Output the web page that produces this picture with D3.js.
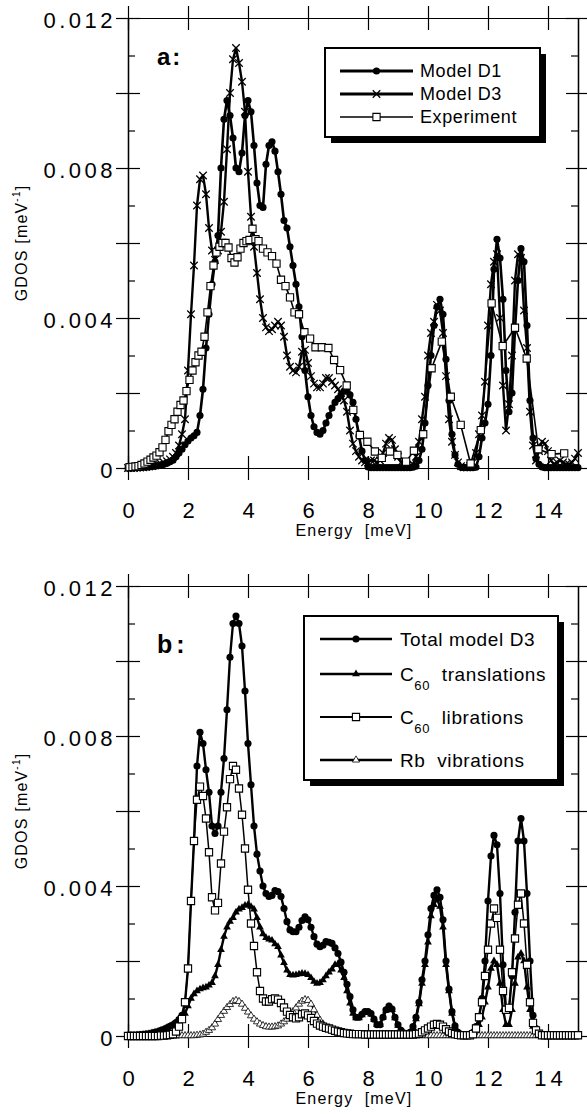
<!DOCTYPE html>
<html>
<head>
<meta charset="utf-8">
<script src="https://cdn.jsdelivr.net/npm/d3@7"></script>
<style>
    body { margin: 0; background: #fff; }
    svg { display: block; font-family: "Liberation Sans", Arial, Helvetica, sans-serif; }
</style>
</head>
<body>
<svg id="chart" width="587" height="1114"></svg>
<script>
// all GDOS arrays are in units of 10^-3 meV^-1
var UNIT = 0.001;

var energy = [
    0, 0.1, 0.2, 0.3, 0.4, 0.5, 0.6, 0.7, 0.8, 0.9, 1.0,
    1.1, 1.2, 1.3, 1.4, 1.5, 1.6, 1.7, 1.8, 1.9, 2.0,
    2.1, 2.2, 2.3, 2.4, 2.5, 2.6, 2.7, 2.8, 2.9, 3.0,
    3.1, 3.2, 3.3, 3.4, 3.5, 3.6, 3.7, 3.8, 3.9, 4.0,
    4.1, 4.2, 4.3, 4.4, 4.5, 4.6, 4.7, 4.8, 4.9, 5.0,
    5.1, 5.2, 5.3, 5.4, 5.5, 5.6, 5.7, 5.8, 5.9, 6.0,
    6.1, 6.2, 6.3, 6.4, 6.5, 6.6, 6.7, 6.8, 6.9, 7.0,
    7.1, 7.2, 7.3, 7.4, 7.5, 7.6, 7.7, 7.8, 7.9, 8.0,
    8.1, 8.2, 8.3, 8.4, 8.5, 8.6, 8.7, 8.8, 8.9, 9.0,
    9.1, 9.2, 9.3, 9.4, 9.5, 9.6, 9.7, 9.8, 9.9, 10.0,
    10.1, 10.2, 10.3, 10.4, 10.5, 10.6, 10.7, 10.8, 10.9, 11.0,
    11.1, 11.2, 11.3, 11.4, 11.5, 11.6, 11.7, 11.8, 11.9, 12.0,
    12.1, 12.2, 12.3, 12.4, 12.5, 12.6, 12.7, 12.8, 12.9, 13.0,
    13.1, 13.2, 13.3, 13.4, 13.5, 13.6, 13.7, 13.8, 13.9, 14.0,
    14.1, 14.2, 14.3, 14.4, 14.5, 14.6, 14.7, 14.8, 14.9, 15.0
];

// panel a
var gdosD1 = [
    0, 0, 0, 0.01, 0.01, 0.02, 0.02, 0.03, 0.04, 0.05, 0.06,
    0.08, 0.1, 0.13, 0.17, 0.21, 0.3, 0.4, 0.5, 0.62, 0.72,
    0.8, 0.86, 0.95, 1.4, 2.1, 3.2, 4.1, 4.9, 5.5, 6.2,
    8.0, 9.3, 9.8, 9.4, 8.8, 8.0, 7.9, 8.4, 9.4, 9.8,
    9.5, 8.6, 7.6, 7.0, 6.95, 8.1, 8.6, 8.7, 8.45, 7.9,
    7.3, 6.6, 6.4, 5.9, 5.4, 4.9, 4.3, 3.5, 2.6, 1.9,
    1.4, 1.1, 0.95, 0.9, 1.0, 1.2, 1.4, 1.6, 1.75, 1.85,
    1.95, 2.05, 2.05, 1.95, 1.75, 1.3, 0.85, 0.45, 0.2, 0.03,
    0.01, 0.01, 0.01, 0.01, 0.01, 0.01, 0.01, 0.01, 0.01, 0.01,
    0.01, 0.01, 0.01, 0.01, 0.02, 0.05, 0.2, 0.5, 1.2, 2.2,
    3.0, 3.8, 4.3, 4.5, 4.1, 2.9, 1.8, 0.9, 0.35, 0.1,
    0.02, 0.01, 0.01, 0.01, 0.01, 0.02, 0.3, 0.8, 1.2, 1.7,
    3.0, 5.3, 6.1, 5.6, 4.5, 2.6, 1.5, 2.0, 3.7, 5.0,
    5.85, 5.5, 3.8, 1.8, 0.8, 0.25, 0.1, 0.03, 0.01, 0.01,
    0.01, 0.01, 0.01, 0.01, 0.01, 0.01, 0.01, 0.01, 0.01, 0.01
];

var gdosD3 = [
    0, 0, 0, 0.01, 0.01, 0.02, 0.03, 0.04, 0.05, 0.07, 0.09,
    0.11, 0.14, 0.18, 0.23, 0.3, 0.4, 0.6, 0.9, 1.3, 2.6,
    4.1, 5.4, 7.0, 7.7, 7.8, 7.3, 6.4, 5.8, 5.55, 5.8,
    6.3, 7.1, 8.5, 10.0, 10.9, 11.2, 10.8, 10.3, 9.5, 7.9,
    6.7, 5.9, 5.2, 4.5, 4.0, 3.75, 3.65, 3.7, 3.8, 3.9,
    3.8, 3.5, 3.0, 2.7, 2.6, 2.55, 2.7, 3.1, 3.15, 2.8,
    2.45, 2.25, 2.15, 2.15, 2.25, 2.4, 2.4, 2.3, 2.2, 2.1,
    2.0, 1.8, 1.5, 1.0, 0.65, 0.45, 0.3, 0.2, 0.15, 0.15,
    0.2, 0.2, 0.15, 0.2, 0.4, 0.65, 0.8, 0.75, 0.5, 0.3,
    0.15, 0.08, 0.05, 0.05, 0.1, 0.3, 0.7, 1.3, 1.9, 3.0,
    3.6, 3.9, 4.35, 4.2, 3.6, 2.45, 1.3, 0.7, 0.35, 0.15,
    0.05, 0.02, 0.02, 0.05, 0.15, 0.4, 0.9, 1.4, 2.3, 3.8,
    4.9, 5.5, 5.7, 4.0, 2.2, 1.0, 1.7, 3.0, 5.0, 5.7,
    5.6, 4.2, 3.2, 1.5, 0.6, 0.2, 0.45, 0.7, 0.65, 0.45,
    0.2, 0.1, 0.15, 0.2, 0.15, 0.1, 0.1, 0.15, 0.25, 0.4
];

var expEnergy = [
    0.05, 0.15, 0.25, 0.35, 0.45, 0.55, 0.65, 0.75, 0.85, 0.95,
    1.05, 1.15, 1.25, 1.35, 1.45, 1.55, 1.65, 1.75, 1.85, 1.95,
    2.05, 2.15, 2.25, 2.35, 2.45, 2.55, 2.65, 2.75, 2.85, 2.95,
    3.05, 3.15, 3.25, 3.35, 3.45, 3.55, 3.65, 3.75, 3.85, 3.95,
    4.05, 4.15, 4.25, 4.35, 4.5, 4.65, 4.8, 4.95, 5.1, 5.25,
    5.4, 5.55, 5.7, 5.88, 6.07, 6.25, 6.46, 6.68, 6.87, 7.07,
    7.29, 7.51, 7.73, 7.98, 8.23, 8.46, 8.73, 8.98, 9.27, 9.53,
    9.84, 10.12, 10.46, 10.76, 11.09, 11.42, 11.76, 12.12, 12.49, 12.9,
    13.29, 13.68, 14.12, 14.54
];

var expGdos = [
    0.02, 0.03, 0.04, 0.05, 0.08, 0.12, 0.17, 0.22, 0.28, 0.33,
    0.42, 0.55, 0.75, 0.98, 1.15, 1.3, 1.5, 1.68, 1.8, 2.05,
    2.35, 2.6, 2.82, 3.0, 3.1, 3.5, 4.15, 4.85, 5.4, 5.75,
    5.9, 6.0, 6.0, 5.88, 5.6, 5.48, 5.62, 5.85, 6.0, 6.05,
    6.08, 6.38, 6.1, 6.05, 5.85, 5.75, 5.65, 5.45, 5.02, 4.85,
    4.55, 4.15, 4.1, 3.62, 3.45, 3.22, 3.22, 3.2, 2.88, 2.61,
    2.2, 1.55, 0.88, 0.7, 0.44, 0.27, 0.44, 0.35, 0.17, 0.46,
    0.9, 2.66, 3.37, 1.9, 1.15, 0.12, 1.01, 4.39, 3.25, 3.74,
    2.92, 0.5, 0.37, 0.39
];

// panel b
var gdosTotal = [
    0, 0.01, 0.01, 0.02, 0.03, 0.04, 0.05, 0.06, 0.08, 0.1, 0.12,
    0.15, 0.18, 0.22, 0.26, 0.3, 0.36, 0.44, 0.55, 0.9, 1.8,
    3.6, 5.2, 7.2, 8.1, 7.8, 7.1, 6.5, 5.6, 5.4, 5.6,
    6.5, 7.4, 8.7, 10.1, 11.0, 11.2, 11.0, 10.4, 9.2, 7.8,
    6.7, 5.6, 4.85, 4.4, 4.0, 3.8, 3.72, 3.75, 3.88, 3.85,
    3.72, 3.4, 3.05, 2.83, 2.78, 2.78, 2.9, 3.08, 3.18, 3.1,
    2.9, 2.65, 2.45, 2.38, 2.42, 2.52, 2.5, 2.47, 2.35, 2.2,
    1.97, 1.7, 1.38, 1.05, 0.7, 0.5, 0.5, 0.58, 0.65, 0.65,
    0.6, 0.45, 0.3, 0.3, 0.5, 0.7, 0.8, 0.72, 0.5, 0.3,
    0.15, 0.08, 0.06, 0.1, 0.25, 0.5, 0.9, 1.5, 2.0, 2.7,
    3.4, 3.75, 3.9, 3.7, 3.1, 2.0, 1.25, 0.65, 0.27, 0.1,
    0.04, 0.02, 0.02, 0.04, 0.1, 0.25, 0.5, 1.0, 2.0, 3.6,
    4.8, 5.35, 5.1, 3.8, 1.9, 0.7, 0.7, 1.6, 3.3, 5.2,
    5.8, 5.2, 3.8, 2.0, 0.55, 0.2, 0.08, 0.03, 0.02, 0.01,
    0.01, 0.01, 0.01, 0.01, 0.01, 0.01, 0.01, 0.01, 0.01, 0.01
];

var gdosTrans = [
    0, 0.01, 0.01, 0.02, 0.03, 0.04, 0.05, 0.06, 0.08, 0.1, 0.12,
    0.15, 0.18, 0.22, 0.26, 0.3, 0.35, 0.42, 0.5, 0.6, 0.8,
    1.0, 1.12, 1.2, 1.25, 1.28, 1.3, 1.35, 1.42, 1.6, 1.9,
    2.3, 2.65, 2.9, 3.05, 3.15, 3.3, 3.38, 3.42, 3.48, 3.5,
    3.45, 3.38, 3.15, 2.9, 2.72, 2.62, 2.58, 2.55, 2.45, 2.38,
    2.15, 1.95, 1.75, 1.63, 1.62, 1.63, 1.65, 1.67, 1.66, 1.63,
    1.55, 1.45, 1.4, 1.42, 1.49, 1.6, 1.7, 1.78, 1.9, 1.92,
    1.75, 1.55, 1.2, 0.87, 0.6, 0.48, 0.48, 0.56, 0.63, 0.63,
    0.58, 0.44, 0.3, 0.3, 0.5, 0.68, 0.78, 0.7, 0.48, 0.28,
    0.14, 0.07, 0.05, 0.08, 0.22, 0.45, 0.85, 1.4, 1.9, 2.5,
    3.2, 3.5, 3.65, 3.45, 2.9, 1.9, 1.2, 0.6, 0.25, 0.08,
    0.03, 0.02, 0.02, 0.03, 0.07, 0.15, 0.3, 0.5, 0.9, 1.3,
    1.8, 2.0, 1.9, 1.4, 0.7, 0.3, 0.3, 0.7, 1.4, 2.1,
    2.2, 2.0, 1.3, 0.7, 0.25, 0.1, 0.05, 0.02, 0.01, 0.01,
    0.01, 0.01, 0.01, 0.01, 0.01, 0.01, 0.01, 0.01, 0.01, 0.01
];

var gdosLib = [
    0, 0, 0, 0, 0, 0, 0, 0, 0, 0, 0,
    0.01, 0.01, 0.02, 0.03, 0.05, 0.12, 0.25, 0.45, 0.9, 1.8,
    3.6, 5.2, 6.3, 6.65, 6.4, 5.8, 4.9, 3.7, 3.35, 3.55,
    4.6, 5.45, 6.1, 6.85, 7.2, 7.1, 6.6, 5.9, 5.0, 3.9,
    3.0, 2.4, 1.7, 1.2, 1.0, 0.92, 0.92, 0.98, 1.0, 0.97,
    0.88, 0.76, 0.65, 0.56, 0.5, 0.47, 0.5, 0.58, 0.6, 0.55,
    0.48, 0.4, 0.33, 0.28, 0.25, 0.22, 0.2, 0.17, 0.14, 0.12,
    0.1, 0.08, 0.07, 0.06, 0.05, 0.05, 0.05, 0.05, 0.04, 0.04,
    0.04, 0.04, 0.04, 0.04, 0.04, 0.04, 0.04, 0.04, 0.04, 0.04,
    0.04, 0.04, 0.04, 0.04, 0.04, 0.05, 0.06, 0.1, 0.15, 0.2,
    0.25, 0.3, 0.32, 0.3, 0.25, 0.18, 0.12, 0.08, 0.05, 0.03,
    0.02, 0.02, 0.02, 0.02, 0.05, 0.2, 0.5, 0.9, 1.6, 2.3,
    3.0, 3.4, 3.15, 2.3, 1.2, 0.7, 0.75, 1.7, 2.6, 3.5,
    3.8, 3.0, 1.9, 0.9, 0.35, 0.15, 0.06, 0.02, 0.02, 0.02,
    0.02, 0.02, 0.02, 0.02, 0.02, 0.02, 0.02, 0.02, 0.02, 0.02
];

var gdosRb = [
    0, 0, 0, 0, 0, 0, 0, 0, 0, 0, 0,
    0, 0, 0, 0, 0, 0, 0.01, 0.01, 0.01, 0.01,
    0.01, 0.01, 0.02, 0.03, 0.05, 0.1, 0.15, 0.22, 0.32, 0.44,
    0.55, 0.66, 0.76, 0.84, 0.92, 0.95, 0.92, 0.85, 0.74, 0.64,
    0.54, 0.45, 0.38, 0.32, 0.28, 0.25, 0.24, 0.24, 0.25, 0.27,
    0.32, 0.38, 0.45, 0.55, 0.65, 0.75, 0.85, 0.93, 0.97, 0.95,
    0.85, 0.7, 0.55, 0.42, 0.32, 0.24, 0.18, 0.14, 0.11, 0.08,
    0.06, 0.05, 0.04, 0.03, 0.02, 0.02, 0.02, 0.02, 0.02, 0.02,
    0.02, 0.02, 0.02, 0.02, 0.02, 0.02, 0.02, 0.02, 0.02, 0.01,
    0.01, 0.01, 0.01, 0.01, 0.01, 0.01, 0.01, 0.01, 0.01, 0.01,
    0.01, 0.01, 0.01, 0.01, 0.01, 0.01, 0.01, 0.01, 0.01, 0.01,
    0.01, 0.01, 0.01, 0.01, 0.01, 0.01, 0.01, 0.01, 0.01, 0.01,
    0.01, 0.01, 0.01, 0.01, 0.01, 0.01, 0.01, 0.01, 0.01, 0.01,
    0.01, 0.01, 0.01, 0.01, 0.01, 0.01, 0.01, 0.01, 0.01, 0.01,
    0.01, 0.01, 0.01, 0.01, 0.01, 0.01, 0.01, 0.01, 0.01, 0.01
];

var xTicks = [0, 2, 4, 6, 8, 10, 12, 14];
var yLabelTicks = [0, 0.004, 0.008, 0.012];
var yMajorTicks = [0, 0.002, 0.004, 0.006, 0.008, 0.010, 0.012];
var yMinorTicks = [0.001, 0.003, 0.005, 0.007, 0.009, 0.011];

var legendA = ["Model D1", "Model D3", "Experiment"];
var legendB = ["Total model D3", "C{60}  translations", "C{60}  librations", "Rb  vibrations"];

var FONT = '"Liberation Sans", Arial, Helvetica, sans-serif';

// "x" marker, d3 symbol type
var symbolX = {
    draw: function(ctx, size) {
        var r = Math.sqrt(size) / 2;
        ctx.moveTo(-r, -r); ctx.lineTo(r, r);
        ctx.moveTo(r, -r); ctx.lineTo(-r, r);
    }
};

var MARKERS = {
    dot:     {type: d3.symbolCircle,   size: 40, fill: "#000", stroke: "none", sw: 0},
    cross:   {type: symbolX,           size: 56, fill: "none", stroke: "#000", sw: 1.3},
    square:  {type: d3.symbolSquare,   size: 52, fill: "#fff", stroke: "#000", sw: 1.1},
    tri:     {type: d3.symbolTriangle, size: 26, fill: "#000", stroke: "none", sw: 0},
    openTri: {type: d3.symbolTriangle, size: 22, fill: "#fff", stroke: "#000", sw: 0.8}
};

function styleMarker(sel, m) {
    sel.attr("d", d3.symbol().type(m.type).size(m.size)())
        .attr("fill", m.fill)
        .attr("stroke", m.stroke)
        .attr("stroke-width", m.sw);
}

function GdosPanel(svg, box) {
    this.box = box;
    this.g = svg.append("g");
    this.x = d3.scaleLinear().domain([0, 15]).range([box.left, box.right]);
    this.y = d3.scaleLinear().domain([0, 0.012]).range([box.bottom, box.top]);
    this.drawAxes();
}

GdosPanel.prototype.tickAxis = function(axis, transform, values, size) {
    var g = this.g.append("g")
        .attr("transform", transform)
        .call(axis.tickValues(values).tickSize(size).tickSizeOuter(0).tickFormat(""));
    g.selectAll("text").remove();
    g.selectAll("path, line").attr("stroke", "#000").attr("stroke-width", 1.2);
    return g;
};

GdosPanel.prototype.drawAxes = function() {
    var b = this.box;
    var L = "translate(" + b.left + ",0)", R = "translate(" + b.right + ",0)";
    var T = "translate(0," + b.top + ")", B = "translate(0," + b.bottom + ")";

    // ticks cross the frame on all four sides, odd y ticks point inwards only
    this.tickAxis(d3.axisLeft(this.y), L, yMajorTicks, 12);
    this.tickAxis(d3.axisRight(this.y), L, yMajorTicks, 12);
    this.tickAxis(d3.axisRight(this.y), L, yMinorTicks, 7);
    this.tickAxis(d3.axisLeft(this.y), R, yMajorTicks, 12);
    this.tickAxis(d3.axisRight(this.y), R, yMajorTicks, 12);
    this.tickAxis(d3.axisLeft(this.y), R, yMinorTicks, 7);
    this.tickAxis(d3.axisTop(this.x), T, xTicks, 12);
    this.tickAxis(d3.axisBottom(this.x), T, xTicks, 12);
    this.tickAxis(d3.axisTop(this.x), B, xTicks, 12);
    this.tickAxis(d3.axisBottom(this.x), B, xTicks, 12);

    var yl = this.g.append("g")
        .attr("transform", L)
        .call(d3.axisLeft(this.y).tickValues(yLabelTicks).tickSize(0).tickPadding(12)
            .tickFormat(function(d) { return d === 0 ? "0" : d3.format(".3f")(d); }));
    yl.select(".domain").remove();
    yl.attr("font-size", 22).attr("font-family", FONT);
    yl.selectAll("text").attr("dy", "0.42em").style("letter-spacing", "3.5px").attr("fill", "#000");

    var xl = this.g.append("g")
        .attr("transform", B)
        .call(d3.axisBottom(this.x).tickValues(xTicks).tickSize(0).tickPadding(34)
            .tickFormat(d3.format("d")));
    xl.select(".domain").remove();
    xl.attr("font-size", 22).attr("font-family", FONT);
    xl.selectAll("text").attr("dx", 2).style("letter-spacing", "4px").attr("fill", "#000");

    this.g.append("text")
        .attr("x", (b.left + b.right) / 2 + 1)
        .attr("y", b.bottom + 68)
        .attr("text-anchor", "middle")
        .attr("font-size", 16)
        .style("letter-spacing", "1.2px")
        .style("white-space", "pre")
        .text("Energy  [meV]");

    var yt = this.g.append("text")
        .attr("transform", "translate(27," + ((b.top + b.bottom) / 2) + ") rotate(-90)")
        .attr("text-anchor", "middle")
        .attr("font-size", 16)
        .style("letter-spacing", "1.2px");
    yt.append("tspan").text("GDOS [meV");
    yt.append("tspan").attr("font-size", 10).attr("dy", -7).text("-1");
    yt.append("tspan").attr("dy", 7).text("]");
};

GdosPanel.prototype.addSeries = function(xs, ys, width, marker) {
    var x = this.x, y = this.y;
    var pts = xs.map(function(e, i) { return [e, ys[i] * UNIT]; });
    var line = d3.line()
        .x(function(d) { return x(d[0]); })
        .y(function(d) { return y(d[1]); });
    this.g.append("path")
        .datum(pts)
        .attr("d", line)
        .attr("fill", "none")
        .attr("stroke", "#000")
        .attr("stroke-width", width)
        .attr("stroke-linejoin", "round");
    this.g.append("g").selectAll("path")
        .data(pts)
        .join("path")
        .attr("transform", function(d) { return "translate(" + x(d[0]) + "," + y(d[1]) + ")"; })
        .call(styleMarker, MARKERS[marker]);
};

GdosPanel.prototype.addTag = function(label, px, py, size, spacing) {
    this.g.append("text")
        .attr("x", px).attr("y", py)
        .attr("font-size", size)
        .attr("font-weight", "bold")
        .style("letter-spacing", spacing + "px")
        .text(label);
};

// lay = {x, y, w, h, lineX0, lineX1, textX, rows, font, widths, markers}
GdosPanel.prototype.addLegend = function(labels, lay) {
    var lg = this.g.append("g");
    lg.append("rect")
        .attr("x", lay.x + 6).attr("y", lay.y + 6)
        .attr("width", lay.w).attr("height", lay.h)
        .attr("fill", "#000");
    lg.append("rect")
        .attr("x", lay.x).attr("y", lay.y)
        .attr("width", lay.w).attr("height", lay.h)
        .attr("fill", "#fff").attr("stroke", "#000").attr("stroke-width", 2);

    labels.forEach(function(label, i) {
        var ry = lay.rows[i];
        lg.append("line")
            .attr("x1", lay.lineX0).attr("x2", lay.lineX1)
            .attr("y1", ry).attr("y2", ry)
            .attr("stroke", "#000").attr("stroke-width", lay.widths[i]);
        lg.append("path")
            .attr("transform", "translate(" + ((lay.lineX0 + lay.lineX1) / 2) + "," + ry + ")")
            .call(styleMarker, MARKERS[lay.markers[i]]);
        var t = lg.append("text")
            .attr("x", lay.textX).attr("y", ry + lay.font * 0.36)
            .attr("font-size", lay.font)
            .style("letter-spacing", "0.6px")
            .style("white-space", "pre");
        var m = label.match(/^(.*)\{(\d+)\}(.*)$/);
        if (m) {
            t.append("tspan").text(m[1]);
            t.append("tspan").attr("font-size", 13).attr("dy", 9).text(m[2]);
            t.append("tspan").attr("dy", -9).text(m[3]);
        } else {
            t.text(label);
        }
    });
};

var svg = d3.select("#chart").attr("font-family", FONT);

var panelA = new GdosPanel(svg, {left: 128, right: 578, top: 18, bottom: 468});
panelA.addSeries(energy, gdosD3, 2.4, "cross");
panelA.addSeries(energy, gdosD1, 2.6, "dot");
panelA.addSeries(expEnergy, expGdos, 1.6, "square");
panelA.addTag("a:", 157, 65, 24, 2);
panelA.addLegend(legendA, {
    x: 325, y: 48, w: 215, h: 89,
    lineX0: 340, lineX1: 413, textX: 420,
    rows: [71, 94, 117], font: 18,
    widths: [2.8, 2.8, 1.6], markers: ["dot", "cross", "square"]
});

var panelB = new GdosPanel(svg, {left: 128, right: 578, top: 586, bottom: 1036});
panelB.addSeries(energy, gdosTotal, 2.4, "dot");
panelB.addSeries(energy, gdosTrans, 2.4, "tri");
panelB.addSeries(energy, gdosRb, 1.6, "openTri");
panelB.addSeries(energy, gdosLib, 1.5, "square");
panelB.addTag("b:", 157, 653, 25, 4);
panelB.addLegend(legendB, {
    x: 304, y: 616, w: 254, h: 164,
    lineX0: 320, lineX1: 392, textX: 400,
    rows: [639, 674, 717, 760], font: 19,
    widths: [2.4, 2.4, 1.8, 2.4], markers: ["dot", "tri", "square", "openTri"]
});
</script>
</body>
</html>
